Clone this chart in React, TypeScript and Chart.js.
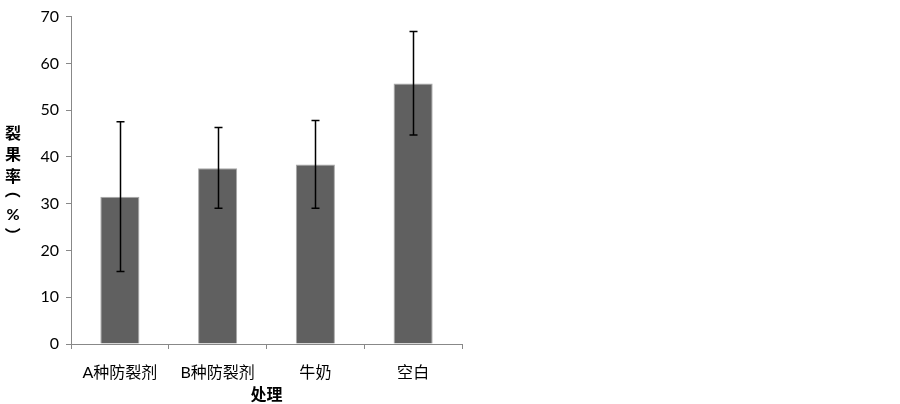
import React, { useEffect, useRef } from "react";
import { Chart, registerables } from "chart.js";

Chart.register(...registerables);

const categories = ["A种防裂剂", "B种防裂剂", "牛奶", "空白"];
const values = [31.5, 37.6, 38.4, 55.7];
const errLow = [15.5, 29.0, 29.0, 44.7];
const errHigh = [47.5, 46.3, 47.8, 66.8];
const yTitleChars = ["裂", "果", "率", "（", "%", "）"];
const xTitle = "处理";

const FONT = "Lato, 'Noto Sans CJK SC', sans-serif";

const errorBarPlugin = {
  id: "errorBars",
  afterDatasetsDraw(chart: any) {
    const ctx = chart.ctx;
    const meta = chart.getDatasetMeta(0);
    const y = chart.scales.y;
    ctx.save();
    ctx.strokeStyle = "#000";
    ctx.lineWidth = 1.5;
    meta.data.forEach((bar: any, i: number) => {
      const x = Math.round(bar.x) + 0.5;
      const yl = y.getPixelForValue(errLow[i]);
      const yh = y.getPixelForValue(errHigh[i]);
      ctx.beginPath();
      ctx.moveTo(x, yl);
      ctx.lineTo(x, yh);
      ctx.moveTo(x - 4, yl);
      ctx.lineTo(x + 4, yl);
      ctx.moveTo(x - 4, yh);
      ctx.lineTo(x + 4, yh);
      ctx.stroke();
    });
    ctx.restore();
  },
};

const yTitlePlugin = {
  id: "yTitleVertical",
  afterDraw(chart: any) {
    const ctx = chart.ctx;
    const area = chart.chartArea;
    const cy = (area.top + area.bottom) / 2 + 1;
    const offsets = [-48.5, -26.5, -6, 14, 33.5, 49];
    const x = 13;
    ctx.save();
    ctx.fillStyle = "#000";
    ctx.font = "bold 16px " + FONT;
    ctx.textAlign = "left";
    ctx.textBaseline = "alphabetic";
    yTitleChars.forEach((ch, i) => {
      const yy = cy + offsets[i];
      const m = ctx.measureText(ch);
      const icx = (m.actualBoundingBoxRight - m.actualBoundingBoxLeft) / 2;
      const icy = (m.actualBoundingBoxDescent - m.actualBoundingBoxAscent) / 2;
      ctx.save();
      ctx.translate(x, yy);
      if (ch === "（" || ch === "）") ctx.rotate(Math.PI / 2);
      ctx.fillText(ch, -icx, -icy);
      ctx.restore();
    });
    ctx.restore();
  },
};

export default function App() {
  const ref = useRef<HTMLCanvasElement>(null);
  useEffect(() => {
    if (!ref.current) return;
    const chart = new Chart(ref.current, {
      type: "bar",
      data: {
        labels: categories,
        datasets: [
          {
            data: values,
            backgroundColor: "#606060",
            borderColor: "#a8a8a8",
            borderWidth: 1,
            barPercentage: 0.8,
            categoryPercentage: 0.5,
          },
        ],
      },
      options: {
        responsive: false,
        animation: false,
        layout: { padding: { left: 0, top: 11, right: 438, bottom: 0 } },
        plugins: { legend: { display: false }, tooltip: { enabled: false } },
        scales: {
          x: {
            grid: {
              offset: true,
              drawOnChartArea: false,
              drawTicks: true,
              tickLength: 5,
              color: "#888",
            },
            border: { color: "#888", width: 1 },
            ticks: {
              color: "#000",
              font: { family: FONT, size: 16 },
              padding: 14,
              maxRotation: 0,
            },
            title: {
              display: true,
              text: xTitle,
              color: "#000",
              font: { family: FONT, size: 16, weight: "bold" },
              padding: { top: 0, bottom: 0 },
            },
            afterFit(scale: any) {
              scale.height = 60;
            },
          },
          y: {
            min: 0,
            max: 70,
            grid: {
              drawOnChartArea: false,
              drawTicks: true,
              tickLength: 5,
              color: "#888",
            },
            border: { color: "#888", width: 1 },
            ticks: {
              stepSize: 10,
              color: "#000",
              font: { family: FONT, size: 16 },
              padding: 7,
            },
            afterFit(scale: any) {
              scale.width = 71;
            },
          },
        },
      },
      plugins: [errorBarPlugin, yTitlePlugin],
    } as any);
    return () => chart.destroy();
  }, []);
  return (
    <div style={{ position: "fixed", left: 0, top: 0, width: 900, height: 404, background: "#fff" }}>
      <canvas ref={ref} width={900} height={404} style={{ width: 900, height: 404 }} />
    </div>
  );
}
